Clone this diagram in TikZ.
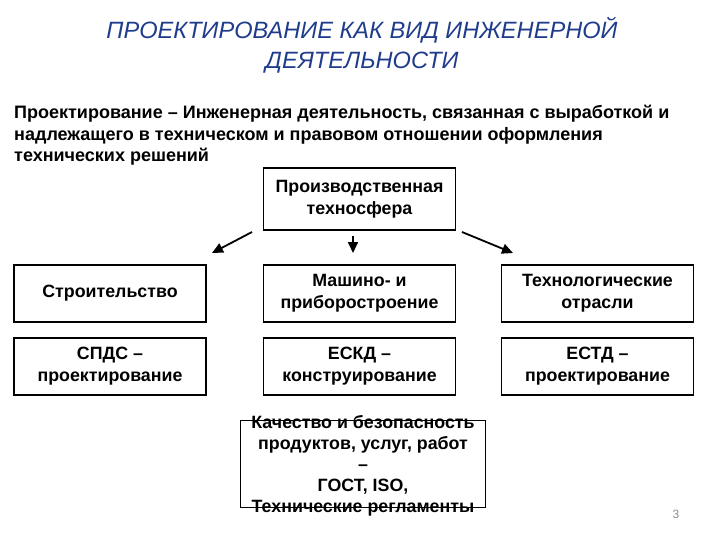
\documentclass[tikz,border=0pt]{standalone}
\usepackage{fontspec}
\setmainfont{Liberation Sans}
\usepackage{xcolor}
\usetikzlibrary{arrows.meta}
\definecolor{titleblue}{HTML}{1F3C8C}
\definecolor{pagegrey}{HTML}{8C8C8C}

\begin{document}
\begin{tikzpicture}[x=1pt, y=1pt,
    box/.style={draw=black, line width=1.8pt, minimum width=192, minimum height=57, align=center, font=\bfseries\fontsize{17.8}{22}\selectfont, fill=white},
    arr/.style={-{Triangle[length=11pt, width=10pt]}, line width=1.8pt}
]
\useasboundingbox (0,0) rectangle (720,-540);
% title and definition
\node[font=\itshape\fontsize{23.6}{30}\selectfont, text=titleblue, align=center] (title) at (362,-45) {ПРОЕКТИРОВАНИЕ КАК ВИД ИНЖЕНЕРНОЙ\\ДЕЯТЕЛЬНОСТИ};
\node[font=\bfseries\fontsize{18}{21.5}\selectfont, align=left, anchor=north west, inner sep=0pt] (defn) at (14,-105) {Проектирование -- Инженерная деятельность, связанная с выработкой и\\надлежащего в техническом и правовом отношении оформления\\технических решений};
% boxes
\node[box, minimum height=62] (tech) at (359.5,-199) {Производственная\\техносфера};
\node[box] (stroy) at (110,-293.5) {Строительство};
\node[box] (mash) at (359.5,-293.5) {Машино- и\\приборостроение};
\node[box] (otrasl) at (597.5,-293.5) {Технологические\\отрасли};
\node[box] (spds) at (110,-366.5) {СПДС --\\проектирование};
\node[box] (eskd) at (359.5,-366.5) {ЕСКД --\\конструирование};
\node[box] (estd) at (597.5,-366.5) {ЕСТД --\\проектирование};
\node[box, minimum width=245, minimum height=87] (kach) at (363,-464) {};
\node[align=center, font=\bfseries\fontsize{17.8}{21}\selectfont] (kachtext) at (363,-466) {Качество и безопасность\\ продуктов, услуг, работ\\--\\ГОСТ, ISO,\\Технические регламенты};
% arrows
\coordinate (ls) at (252,-232);
\coordinate (ms) at (353,-236);
\coordinate (rs) at (462,-232);
\coordinate (la) at (212,-253);
\coordinate (ma) at (353,-253);
\coordinate (ra) at (513,-253);
\draw[arr] (ls) -- (la);
\draw[arr] (ms) -- (ma);
\draw[arr] (rs) -- (ra);
\node[text=pagegrey, font=\fontsize{12}{14}\selectfont] (pnum) at (676,-514) {3};
\end{tikzpicture}
\end{document}
